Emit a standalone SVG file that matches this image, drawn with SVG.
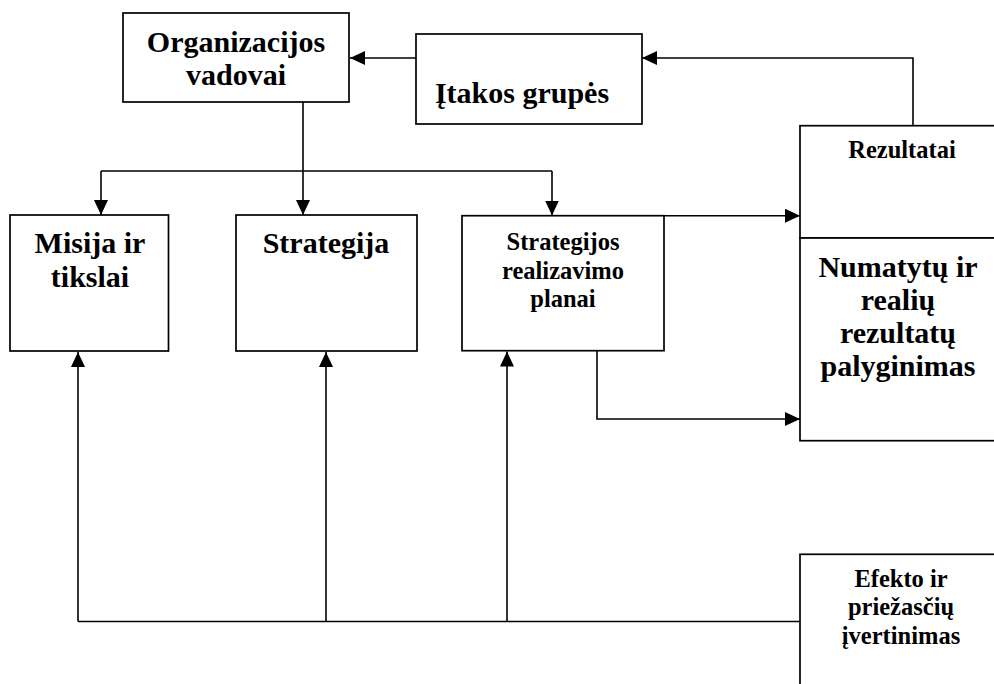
<svg xmlns="http://www.w3.org/2000/svg" width="994" height="684" viewBox="0 0 994 684">
  <style>
    .box { fill: #ffffff; stroke: #000000; stroke-width: 1.7; }
    .link { fill: none; stroke: #000000; stroke-width: 1.6; }
    .big { font-family: "Liberation Serif", "Times New Roman", serif; font-weight: bold; font-size: 30px; fill: #000000; text-anchor: middle; }
    .small { font-family: "Liberation Serif", "Times New Roman", serif; font-weight: bold; font-size: 24.5px; fill: #000000; text-anchor: middle; }
  </style>
  <defs>
    <marker id="arrow" viewBox="0 0 15 14" markerUnits="userSpaceOnUse" markerWidth="15" markerHeight="14" refX="15" refY="7" orient="auto">
      <path d="M0,0 L15,7 L0,14 z" fill="#000000"/>
    </marker>
  </defs>
  <rect width="994" height="684" fill="#ffffff"/>

  <!-- connectors -->
  <g id="connectors">
    <!-- influence groups to managers -->
    <path class="link" d="M416,58 L350,58" marker-end="url(#arrow)"/>
    <!-- results back to influence groups -->
    <path class="link" d="M913,126 L913,58 L642,58" marker-end="url(#arrow)"/>
    <!-- managers down to the three planning boxes -->
    <path class="link" d="M303,102 L303,215" marker-end="url(#arrow)"/>
    <path class="link" d="M101,171 L552,171"/>
    <path class="link" d="M101,171 L101,215" marker-end="url(#arrow)"/>
    <path class="link" d="M552,171 L552,215.5" marker-end="url(#arrow)"/>
    <!-- plans to results and comparison -->
    <path class="link" d="M664,215.7 L800,215.7" marker-end="url(#arrow)"/>
    <path class="link" d="M597,351 L597,419 L800,419" marker-end="url(#arrow)"/>
    <!-- evaluation feedback -->
    <path class="link" d="M800,621.5 L78,621.5"/>
    <path class="link" d="M78,621.5 L78,352" marker-end="url(#arrow)"/>
    <path class="link" d="M326,621.5 L326,352" marker-end="url(#arrow)"/>
    <path class="link" d="M507,621.5 L507,351.5" marker-end="url(#arrow)"/>
  </g>

  <g id="vadovai">
    <rect class="box" x="123" y="13" width="226" height="89"/>
    <text class="big" x="236" y="52">Organizacijos</text>
    <text class="big" x="236" y="85">vadovai</text>
  </g>

  <g id="itakos-grupes">
    <rect class="box" x="416" y="34" width="226" height="90"/>
    <text class="big" x="522" y="102.5">Įtakos grupės</text>
  </g>

  <g id="misija">
    <rect class="box" x="10" y="215" width="158.5" height="136"/>
    <text class="big" x="90" y="253">Misija ir</text>
    <text class="big" x="90" y="287">tikslai</text>
  </g>

  <g id="strategija">
    <rect class="box" x="236" y="215" width="181" height="136"/>
    <text class="big" x="326" y="253">Strategija</text>
  </g>

  <g id="planai">
    <rect class="box" x="462" y="215.7" width="202" height="135"/>
    <text class="small" x="563" y="250">Strategijos</text>
    <text class="small" x="563" y="278.5">realizavimo</text>
    <text class="small" x="563" y="307">planai</text>
  </g>

  <g id="rezultatai">
    <rect class="box" x="800" y="125.7" width="206" height="112.3"/>
    <text class="small" x="902" y="158">Rezultatai</text>
  </g>

  <g id="palyginimas">
    <rect class="box" x="800" y="238" width="206" height="202.7"/>
    <text class="big" x="898" y="277">Numatytų ir</text>
    <text class="big" x="898" y="310">realių</text>
    <text class="big" x="898" y="343">rezultatų</text>
    <text class="big" x="898" y="376">palyginimas</text>
  </g>

  <g id="ivertinimas">
    <rect class="box" x="800" y="554.3" width="206" height="140"/>
    <text class="small" x="901" y="586.5">Efekto ir</text>
    <text class="small" x="901" y="615">priežasčių</text>
    <text class="small" x="901" y="643.5">įvertinimas</text>
  </g>
</svg>
